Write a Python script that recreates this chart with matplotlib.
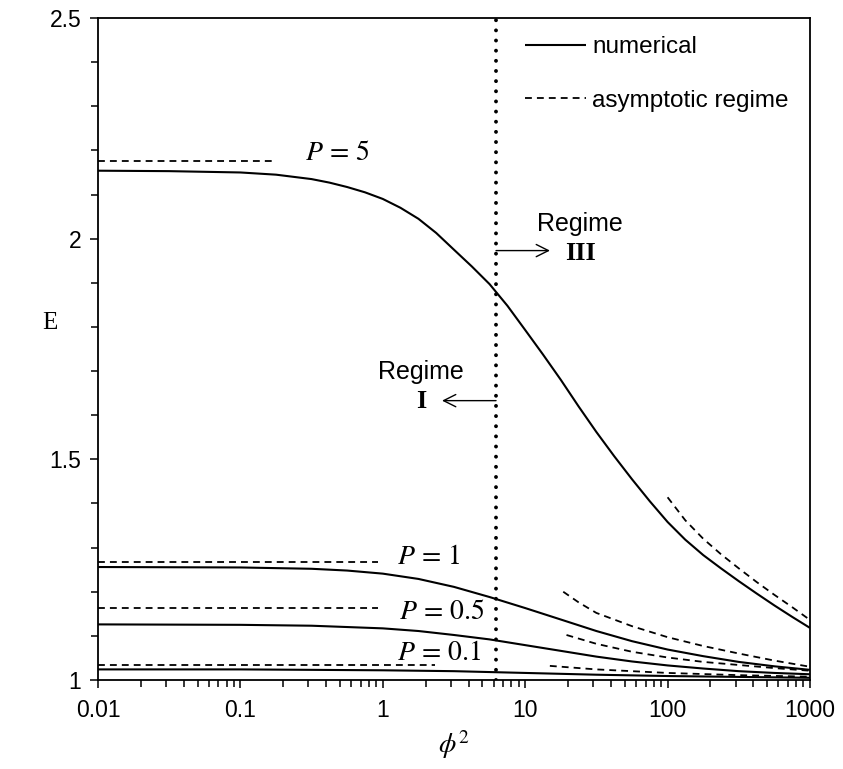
import matplotlib
matplotlib.use("Agg")
import matplotlib.pyplot as plt
from matplotlib.ticker import FuncFormatter, MultipleLocator, LogLocator, NullFormatter

plt.rcParams['font.family'] = ['Liberation Sans', 'DejaVu Sans']
plt.rcParams['mathtext.fontset'] = 'stix'

# ---------------- data ----------------
# numerical solutions
x_p5 = [0.01, 0.0316, 0.1, 0.178, 0.316, 0.422, 0.562, 0.750, 1.0, 1.33, 1.78, 2.37, 3.16, 4.22,
        5.62, 7.50, 10, 13.3, 17.8, 23.7, 31.6, 42.2, 56.2, 75.0, 100, 133, 178, 237, 316, 422,
        562, 750, 1000]
E_p5 = [2.154, 2.153, 2.150, 2.145, 2.135, 2.127, 2.117, 2.105, 2.090, 2.070, 2.045, 2.013, 1.975, 1.937,
        1.897, 1.848, 1.793, 1.738, 1.680, 1.620, 1.562, 1.507, 1.455, 1.405, 1.358, 1.318, 1.283, 1.253,
        1.224, 1.196, 1.169, 1.143, 1.118]

x_p1 = [0.01, 0.1, 0.316, 0.562, 1.0, 1.78, 3.16, 5.62, 10, 17.8, 31.6, 56.2, 100, 178, 316, 562, 1000]
E_p1 = [1.256, 1.255, 1.252, 1.248, 1.241, 1.229, 1.211, 1.188, 1.163, 1.137, 1.111, 1.088, 1.069,
        1.054, 1.041, 1.031, 1.023]

x_p05 = [0.01, 0.1, 0.316, 1.0, 1.78, 3.16, 5.62, 10, 17.8, 31.6, 56.2, 100, 178, 316, 562, 1000]
E_p05 = [1.126, 1.125, 1.123, 1.117, 1.111, 1.102, 1.092, 1.079, 1.066, 1.053, 1.042, 1.033, 1.026,
         1.020, 1.016, 1.013]

x_p01 = [0.01, 0.1, 1.0, 3.16, 10, 31.6, 100, 316, 1000]
E_p01 = [1.024, 1.024, 1.022, 1.020, 1.016, 1.012, 1.009, 1.007, 1.005]

# asymptotic regime (low phi^2, horizontal) : [x_start, x_end], value
low_x = {"5": [0.01, 0.167], "1": [0.01, 0.92], "0.5": [0.01, 0.92], "0.1": [0.01, 2.33]}
low_E = {"5": 2.176, "1": 1.268, "0.5": 1.164, "0.1": 1.034}

# asymptotic regime (high phi^2)
xa_p5 = [100, 133, 178, 237, 316, 422, 562, 750, 1000]
Ea_p5 = [1.414, 1.362, 1.320, 1.285, 1.253, 1.222, 1.193, 1.165, 1.136]
xa_p1 = [18.5, 23.7, 31.6, 56.2, 100, 178, 316, 562, 1000]
Ea_p1 = [1.200, 1.176, 1.152, 1.122, 1.097, 1.077, 1.060, 1.044, 1.030]
xa_p05 = [19.5, 31.6, 56.2, 100, 178, 316, 562, 1000]
Ea_p05 = [1.102, 1.082, 1.064, 1.051, 1.041, 1.034, 1.027, 1.021]
xa_p01 = [14.9, 31.6, 100, 316, 1000]
Ea_p01 = [1.032, 1.024, 1.016, 1.011, 1.0075]

regime_boundary = 6.24

p_labels = [r"$P\,=\,5$", r"$P\,=\,1$", r"$P\,=\,0.5$", r"$P\,=\,0.1$"]
p_label_x = [0.284, 1.258, 1.30, 1.258]
p_label_E = [2.195, 1.278, 1.154, 1.061]

# ---------------- figure ----------------
fig = plt.figure(figsize=(8.43, 7.69), dpi=100)
ax = fig.add_axes([98/843, 89/769, 712/843, 662/769])

lw = 1.5
dash = (0, (3.8, 2.8))
dlw = 1.3

num_lines = []
for xs, Es in [(x_p5, E_p5), (x_p1, E_p1), (x_p05, E_p05), (x_p01, E_p01)]:
    l, = ax.plot(xs, Es, color='black', lw=lw, solid_capstyle='butt', solid_joinstyle='round')
    num_lines.append(l)

asy_lines = []
for k in ["5", "1", "0.5", "0.1"]:
    l, = ax.plot(low_x[k], [low_E[k]] * 2, color='black', lw=dlw, linestyle=dash)
    asy_lines.append(l)
for xs, Es in [(xa_p5, Ea_p5), (xa_p1, Ea_p1), (xa_p05, Ea_p05), (xa_p01, Ea_p01)]:
    ax.plot(xs, Es, color='black', lw=dlw, linestyle=dash)

# regime boundary (dotted)
ax.axvline(regime_boundary, color='black', lw=2.8, linestyle=(0, (0.01, 2.6)),
           dash_capstyle='round')

# P labels
for t, xx, yy in zip(p_labels, p_label_x, p_label_E):
    ax.text(xx, yy, t, fontsize=20, ha='left', va='center')

# Regime annotations
ax.annotate("", xy=(2.605, 1.633), xytext=(regime_boundary, 1.633),
            arrowprops=dict(arrowstyle='->', lw=1.0, color='black', mutation_scale=22,
                            shrinkA=0, shrinkB=0))
ax.annotate("", xy=(14.93, 1.973), xytext=(regime_boundary, 1.973),
            arrowprops=dict(arrowstyle='->', lw=1.0, color='black', mutation_scale=22,
                            shrinkA=0, shrinkB=0))
ax.text(1.854, 1.697, "Regime", fontsize=18, ha='center', va='center')
ax.text(1.854, 1.631, "I", fontsize=19, ha='center', va='center',
        family='Liberation Serif', weight='bold')
ax.text(24.3, 2.034, "Regime", fontsize=18, ha='center', va='center')
ax.text(24.3, 1.966, "III", fontsize=19, ha='center', va='center',
        family='Liberation Serif', weight='bold')

# axes
ax.set_xscale('log')
ax.set_xlim(0.01, 1000)
ax.set_ylim(1, 2.5)
ax.yaxis.set_major_locator(MultipleLocator(0.5))
ax.yaxis.set_minor_locator(MultipleLocator(0.1))
ax.xaxis.set_major_locator(LogLocator(base=10, numticks=10))
ax.xaxis.set_minor_locator(LogLocator(base=10, subs=range(2, 10), numticks=20))
ax.xaxis.set_minor_formatter(NullFormatter())
fmt = FuncFormatter(lambda v, p: "%g" % v)
ax.xaxis.set_major_formatter(fmt)
ax.yaxis.set_major_formatter(fmt)
ax.tick_params(which='both', direction='out', top=False, right=False,
               width=1.1, labelsize=16.5)
ax.tick_params(which='major', length=6)
ax.tick_params(axis='x', which='major', pad=8)
ax.tick_params(axis='y', which='major', pad=6)
ax.tick_params(which='minor', length=5)
for s in ax.spines.values():
    s.set_linewidth(1.3)

ax.set_xlabel(r"$\phi^2$", fontsize=20)
ax.xaxis.set_label_coords(0.5, -0.072)
ax.set_ylabel("E", fontsize=18, family='Liberation Serif', rotation=0,
              ha='center', va='center')
ax.yaxis.set_label_coords(-0.067, 0.54)

ax.legend([num_lines[0], asy_lines[0]], ["numerical", "asymptotic regime"],
          loc='upper left', bbox_to_anchor=(0.5865, 0.9875), borderaxespad=0,
          frameon=False, fontsize=17.5, handlelength=2.5, handletextpad=0.25,
          labelspacing=1.3)

fig.savefig("out.png", dpi=100)
